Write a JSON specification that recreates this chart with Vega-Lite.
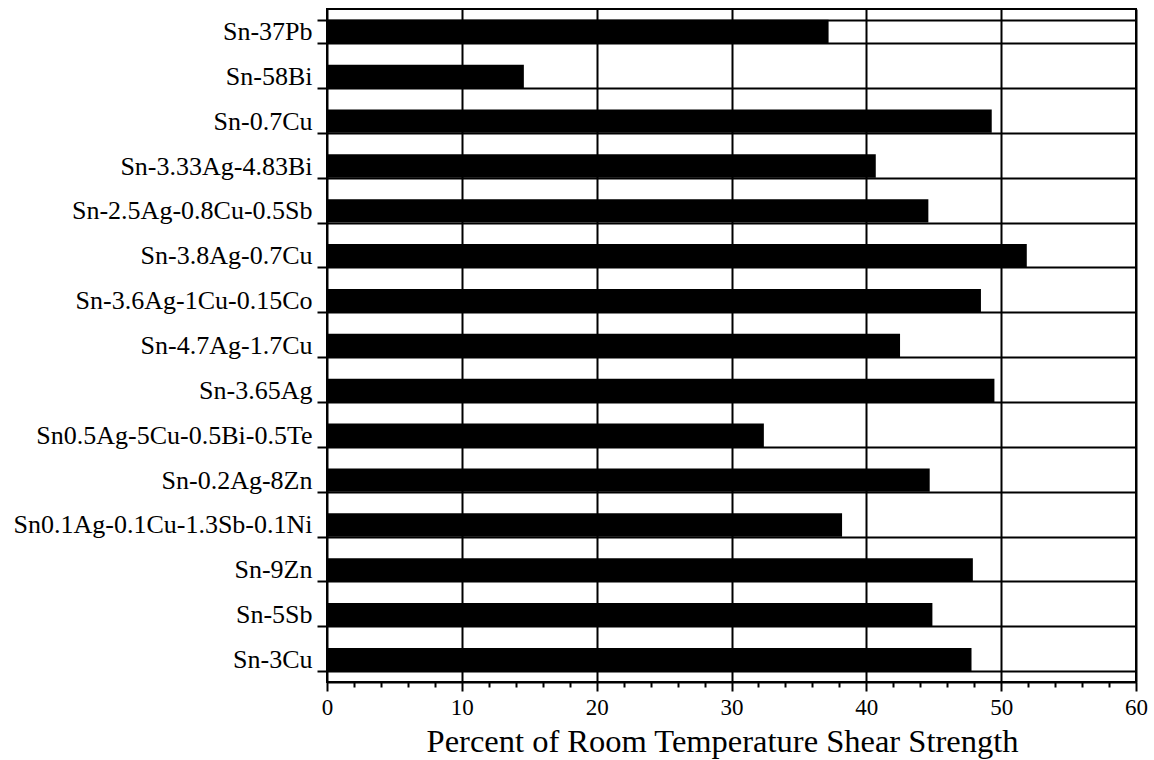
{
  "$schema": "https://vega.github.io/schema/vega-lite/v6.json",
  "width": 809,
  "height": 673,
  "autosize": {"type": "none"},
  "padding": {"left": 327, "top": 9, "right": 18, "bottom": 78},
  "background": "white",
  "config": {
    "view": {"stroke": "black", "strokeWidth": 2},
    "font": "Liberation Serif"
  },
  "data": {
    "values": [
      {"alloy": "Sn-37Pb", "pct": 37.2},
      {"alloy": "Sn-58Bi", "pct": 14.6},
      {"alloy": "Sn-0.7Cu", "pct": 49.3},
      {"alloy": "Sn-3.33Ag-4.83Bi", "pct": 40.7},
      {"alloy": "Sn-2.5Ag-0.8Cu-0.5Sb", "pct": 44.6},
      {"alloy": "Sn-3.8Ag-0.7Cu", "pct": 51.9},
      {"alloy": "Sn-3.6Ag-1Cu-0.15Co", "pct": 48.5},
      {"alloy": "Sn-4.7Ag-1.7Cu", "pct": 42.5},
      {"alloy": "Sn-3.65Ag", "pct": 49.5},
      {"alloy": "Sn0.5Ag-5Cu-0.5Bi-0.5Te", "pct": 32.4},
      {"alloy": "Sn-0.2Ag-8Zn", "pct": 44.7},
      {"alloy": "Sn0.1Ag-0.1Cu-1.3Sb-0.1Ni", "pct": 38.2},
      {"alloy": "Sn-9Zn", "pct": 47.9},
      {"alloy": "Sn-5Sb", "pct": 44.9},
      {"alloy": "Sn-3Cu", "pct": 47.8}
    ]
  },
  "mark": {"type": "bar", "color": "black"},
  "encoding": {
    "y": {
      "field": "alloy",
      "type": "nominal",
      "sort": null,
      "scale": {"paddingInner": 0.48, "paddingOuter": 0.24},
      "axis": {
        "title": null,
        "tickBand": "extent",
        "grid": true,
        "gridColor": "black",
        "gridWidth": 2,
        "gridOpacity": 1,
        "domain": false,
        "tickColor": "black",
        "tickWidth": 2,
        "tickSize": 10,
        "labelFont": "Liberation Serif",
        "labelFontSize": 26,
        "labelColor": "black",
        "labelLimit": 0,
        "labelPadding": 5
      }
    },
    "x": {
      "field": "pct",
      "type": "quantitative",
      "scale": {"domain": [0, 60], "nice": false},
      "axis": {
        "title": "Percent of Room Temperature Shear Strength",
        "titleFont": "Liberation Serif",
        "titleFontSize": 32.5,
        "titleFontWeight": "normal",
        "titleColor": "black",
        "titlePadding": 6,
        "titleX": 395,
        "values": [0, 2, 4, 6, 8, 10, 12, 14, 16, 18, 20, 22, 24, 26, 28, 30, 32, 34, 36, 38, 40, 42, 44, 46, 48, 50, 52, 54, 56, 58, 60],
        "labelExpr": "datum.value % 10 === 0 ? datum.label : ''",
        "labelFont": "Liberation Serif",
        "labelFontSize": 23,
        "labelColor": "black",
        "labelFlush": false,
        "labelPadding": 5,
        "grid": true,
        "gridColor": {"condition": {"test": "datum.value % 10 === 0", "value": "black"}, "value": "transparent"},
        "gridWidth": 2,
        "gridOpacity": 1,
        "domainColor": "black",
        "domainWidth": 2,
        "tickColor": "black",
        "tickWidth": 2,
        "tickSize": {"condition": {"test": "datum.value % 10 === 0", "value": 9}, "value": 5}
      }
    }
  }
}
